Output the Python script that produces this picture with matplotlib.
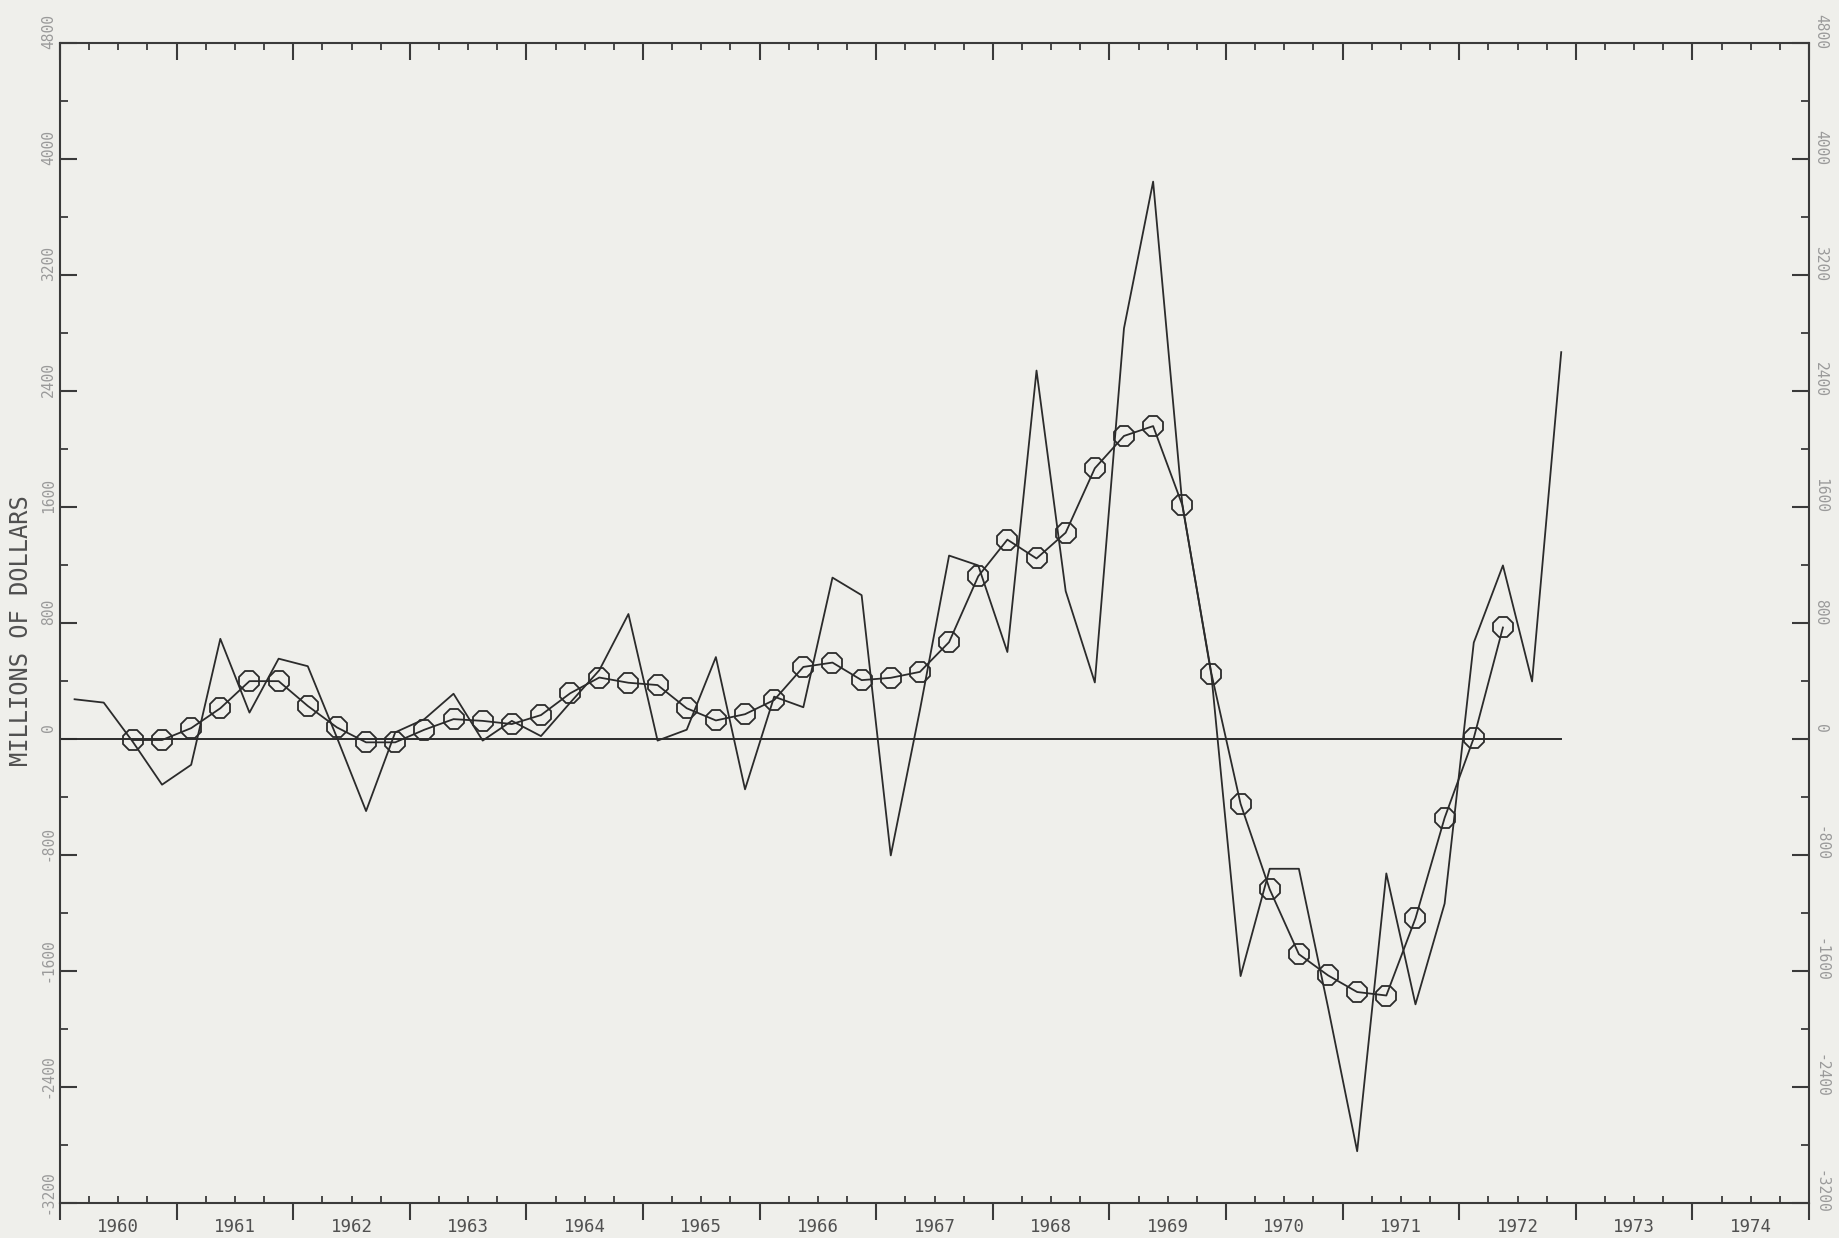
import numpy as np
import matplotlib
matplotlib.use('Agg')
import matplotlib.pyplot as plt
from matplotlib.ticker import MultipleLocator, FixedLocator
from matplotlib.transforms import ScaledTranslation

# Quarterly series, 1960 Q1 .. 1972 Q4 (millions of dollars)
quarterly = [274, 251, -20, -315, -178, 691, 182, 554,
             502, 10, -497, 46, 137, 312, -11, 125,
             20, 250, 474, 862, -11, 64, 565, -347,
             292, 219, 1113, 992, -803, 200, 1265, 1197,
             600, 2541, 1020, 390, 2832, 3844, 1621, 440,
             -1635, -895, -895, -1850, -2843, -927, -1830, -1135,
             665, 1197, 397, 2668]

# Smoothed series (circles), 1960 Q3 .. 1972 Q2
smoothed = [-7, -7, 75, 212, 399, 399, 228, 80,
            -23, -23, 64, 137, 125, 103, 165, 315,
            424, 388, 372, 212, 128, 171, 269, 497,
            527, 406, 422, 463, 668, 1122, 1375, 1245,
            1423, 1867, 2090, 2158, 1614, 451, -447, -1037,
            -1484, -1630, -1745, -1769, -1237, -544, 7, 769]
smoothed_start = 2  # quarter index of the first circle

years = list(range(1960, 1975))
y_ticks = list(range(-3200, 4801, 800))

paper = '#efefeb'
ink = '#2b2b2b'
mono = 'DejaVu Sans Mono'

# quarter mid points
x_q = 1960.125 + 0.25 * np.arange(len(quarterly))
x_s = x_q[smoothed_start:smoothed_start + len(smoothed)]

fig = plt.figure(figsize=(18.4, 12.38), dpi=100, facecolor=paper)
ax = fig.add_axes([60 / 1840, 1 - 1203 / 1238, 1749 / 1840, 1160 / 1238])
ax.set_facecolor(paper)

# zero reference line
ax.plot([years[0], x_q[-1]], [0, 0], color=ink, lw=1.4)

ax.plot(x_q, quarterly, color=ink, lw=1.3)
ax.plot(x_s, smoothed, color=ink, lw=1.3, marker='8', markersize=15,
        markerfacecolor='none', markeredgecolor=ink, markeredgewidth=1.3)

ax.set_xlim(years[0], years[-1] + 1)
ax.set_ylim(y_ticks[0], y_ticks[-1])

for s in ax.spines.values():
    s.set_color('#3a3a3a')
    s.set_linewidth(1.5)

# x ticks: years (major), quarters (minor)
ax.xaxis.set_major_locator(FixedLocator(years + [years[-1] + 1]))
ax.xaxis.set_minor_locator(MultipleLocator(0.25))
ax.tick_params(axis='x', which='major', direction='out', length=12,
               width=1.5, color='#3a3a3a', top=False, labelbottom=False)
ax.tick_params(axis='x', which='minor', direction='in', length=5,
               width=1.3, color='#3a3a3a', top=True)

# top axis major ticks point inward
ax_top = ax.secondary_xaxis('top')
ax_top.set_xticks(years + [years[-1] + 1])
ax_top.tick_params(direction='in', length=12, width=1.5, color='#3a3a3a',
                   labeltop=False)
ax_top.spines['top'].set_visible(False)

# year labels centred between year ticks
for yr in years:
    ax.text(yr + 0.5, -0.013, str(yr), transform=ax.get_xaxis_transform(),
            ha='center', va='top', family=mono, fontsize=12.5,
            color='#505050')

# y ticks both sides
ax.set_yticks(y_ticks)
ax.yaxis.set_minor_locator(MultipleLocator(400))
ax.tick_params(axis='y', which='major', direction='in', length=12,
               width=1.5, color='#3a3a3a', left=True, right=True,
               labelleft=True, labelright=True, pad=3)
ax.tick_params(axis='y', which='minor', direction='in', length=6,
               width=1.3, color='#3a3a3a', left=True, right=True)
ax.set_yticklabels([str(v) for v in y_ticks])

shift = ScaledTranslation(0, 8 / 72, fig.dpi_scale_trans)
for t in ax.yaxis.get_major_ticks():
    t.label1.set_rotation(90)
    t.label1.set_va('center')
    t.label1.set_family(mono)
    t.label1.set_fontsize(10.5)
    t.label1.set_color('#9a9a9a')
    t.label1.set_transform(t.label1.get_transform() + shift)
    t.label2.set_rotation(-90)
    t.label2.set_va('center')
    t.label2.set_family(mono)
    t.label2.set_fontsize(10.5)
    t.label2.set_color('#9a9a9a')
    t.label2.set_transform(t.label2.get_transform() + shift)

fig.text(21 / 1840, 1 - 631 / 1238, 'MILLIONS OF DOLLARS', rotation=90,
         ha='center', va='center', family=mono, fontsize=17, color='#505050')

fig.savefig('out.png', dpi=100, facecolor=paper)
